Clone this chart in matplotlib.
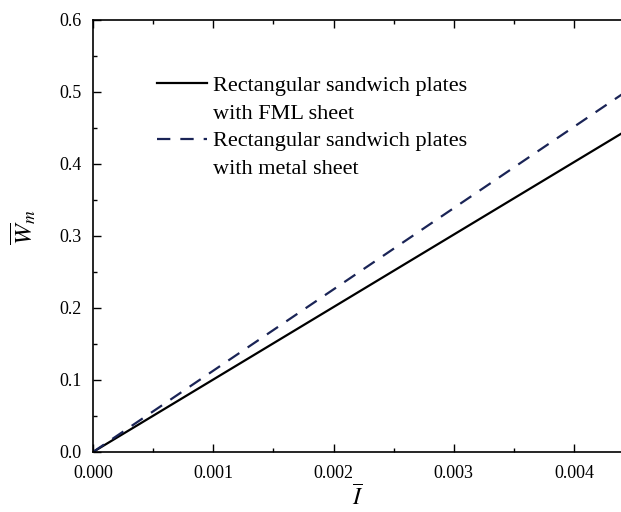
import matplotlib
matplotlib.use("Agg")
import matplotlib.pyplot as plt
from matplotlib.lines import Line2D
from matplotlib.ticker import MultipleLocator, FormatStrFormatter

plt.rcParams['font.family'] = ['Liberation Serif', 'DejaVu Serif']
plt.rcParams['mathtext.fontset'] = 'stix'

impulse = [0.0, 0.0044]
w_fml = [0.0, 0.443]
w_metal = [0.0, 0.497]
label_fml = ["Rectangular sandwich plates", "with FML sheet"]
label_metal = ["Rectangular sandwich plates", "with metal sheet"]

fig = plt.figure(figsize=(6.21, 5.12), dpi=100)
ax = fig.add_axes([93/621, 1 - 452/512, 1 - 93/621 + 0.002, 432/512])

dash = (0, (6, 4.5))
l1, = ax.plot(impulse, w_fml, color='black', lw=1.6)
l2, = ax.plot(impulse, w_metal, color='#1a2456', lw=1.6, ls=dash)

ax.set_xlim(0, 0.0044)
ax.set_ylim(0, 0.6)
ax.xaxis.set_major_locator(MultipleLocator(0.001))
ax.xaxis.set_minor_locator(MultipleLocator(0.0005))
ax.yaxis.set_major_locator(MultipleLocator(0.1))
ax.yaxis.set_minor_locator(MultipleLocator(0.05))
ax.xaxis.set_major_formatter(FormatStrFormatter('%.3f'))
ax.yaxis.set_major_formatter(FormatStrFormatter('%.1f'))
ax.tick_params(which='both', direction='in', top=True, right=False, labelsize=13)
ax.tick_params(which='major', length=6, width=1)
ax.tick_params(which='minor', length=3, width=1)
ax.tick_params(axis='x', pad=9)
ax.tick_params(axis='y', pad=8)
for s in ax.spines.values():
    s.set_linewidth(1.2)
ax.spines['right'].set_visible(False)

ax.set_xlabel(r'$\overline{I}$', fontsize=17)
ax.xaxis.set_label_coords(0.5, -0.078)
ax.set_ylabel(r'$\overline{W}_m$', fontsize=18)
ax.yaxis.set_label_coords(-0.104, 0.52)

blank = Line2D([], [], lw=0)
handles = [l1, blank, l2, blank]
texts = [label_fml[0], label_fml[1], label_metal[0], label_metal[1]]
leg = ax.legend(handles, texts, loc='upper left', bbox_to_anchor=(0.104, 0.892),
                frameon=False, fontsize=16, handlelength=2.25, handletextpad=0.27,
                labelspacing=0.32, borderaxespad=0)

fig.savefig('out.png', dpi=100)
